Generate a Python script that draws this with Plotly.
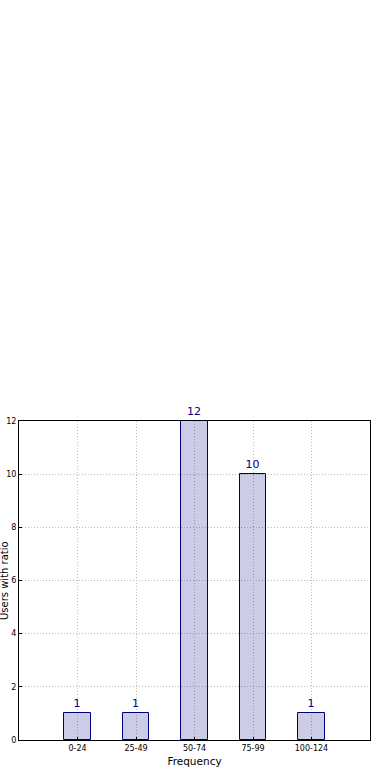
import plotly.graph_objects as go

categories = ["0-24", "25-49", "50-74", "75-99", "100-124"]
counts = [1, 1, 12, 10, 1]
y_ticks = [0, 2, 4, 6, 8, 10, 12]

x_pos = list(range(len(categories)))

fig = go.Figure()
fig.add_trace(go.Bar(
    x=x_pos,
    y=counts,
    width=0.45,
    marker=dict(color="rgba(0,0,128,0.2)", line=dict(color="#00007f", width=1)),
    text=[str(c) for c in counts],
    textposition="outside",
    textfont=dict(family="DejaVu Sans", size=11, color="#00007f"),
    cliponaxis=False,
))

fig.update_layout(
    width=390, height=780,
    margin=dict(l=19, r=20, t=421, b=40),
    plot_bgcolor="white", paper_bgcolor="white",
    showlegend=False,
    font=dict(family="DejaVu Sans", size=8, color="black"),
    bargap=0,
)
fig.add_annotation(
    text="Users with ratio", textangle=-90,
    xref="paper", yref="paper", x=-22 / 351, y=0.5,
    xanchor="left", yanchor="middle", showarrow=False,
    font=dict(family="DejaVu Sans", size=10, color="black"),
)
fig.update_xaxes(
    range=[-1, 5],
    tickmode="array", tickvals=x_pos, ticktext=categories,
    showgrid=True, gridcolor="#bbbbbb", griddash="1px,2px", gridwidth=1,
    showline=True, linecolor="black", linewidth=1, mirror=True,
    ticks="inside", ticklen=3, tickcolor="black",
    tickfont=dict(size=8),
    title=dict(text="Frequency", font=dict(size=10.5), standoff=6),
    zeroline=False, automargin=False,
)
fig.update_yaxes(
    range=[0, 12],
    tickmode="array", tickvals=y_ticks,
    showgrid=True, gridcolor="#bbbbbb", griddash="1px,2px", gridwidth=1,
    showline=True, linecolor="black", linewidth=1, mirror=True,
    ticks="inside", ticklen=3, tickcolor="black",
    tickfont=dict(size=8),
    zeroline=False, automargin=False,
)

fig.write_html("out.html")
